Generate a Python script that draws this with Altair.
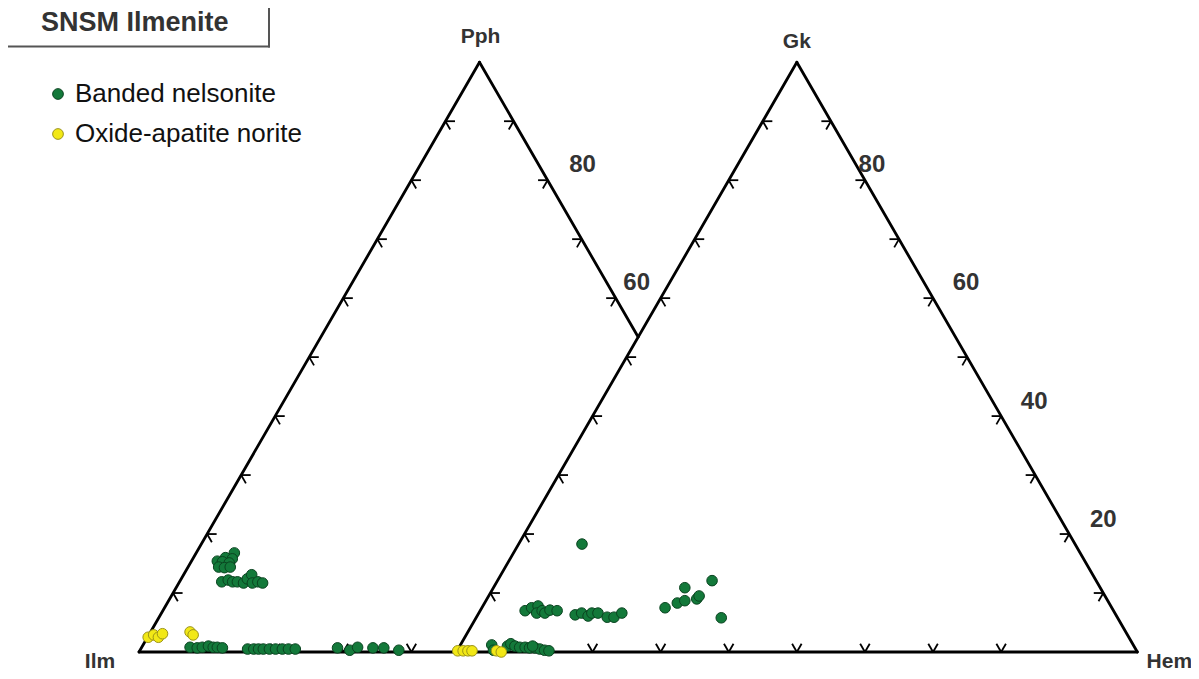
import math
import altair as alt
import pandas as pd

# ---------------- data (ternary compositions, %) ----------------
# Left diagram: apex = Pph, right component measured along base from Ilm
left_nelsonite_pph = [16.8, 16.0, 15.8, 15.4, 15.3, 15.1, 14.4, 14.3, 14.4,
                      11.9, 12.2, 11.9, 11.9, 11.7, 12.4, 13.1, 11.7, 11.9, 11.7,
                      0.8, 0.7, 0.8, 1.0, 0.8, 0.8, 0.7,
                      0.5, 0.5, 0.5, 0.5, 0.5, 0.5, 0.5, 0.5, 0.5,
                      0.7, 0.3, 0.8, 0.7, 0.7, 0.3]
left_nelsonite_rest = [5.6, 4.7, 5.8, 3.8, 4.6, 5.7, 4.5, 5.4, 6.2,
                       6.2, 7.0, 7.8, 8.5, 9.5, 9.7, 10.0, 10.8, 11.5, 12.3,
                       7.1, 8.2, 8.9, 9.7, 10.5, 11.1, 11.9,
                       15.7, 16.6, 17.3, 18.0, 18.9, 19.8, 20.8, 21.7, 22.7,
                       28.8, 30.8, 31.7, 34.0, 35.6, 38.0]
left_norite_pph = [2.5, 2.9, 2.5, 3.1, 3.4, 2.9]
left_norite_rest = [0.1, 0.7, 1.6, 1.9, 5.8, 6.5]

# Right diagram: apex = Gk, right vertex = Hem
right_nelsonite_gk = [1.2, 0.3, 1.0, 1.4, 1.0, 0.8, 0.8, 0.7, 0.7, 0.5, 0.3, 0.2, 1.0,
                      7.0, 7.5, 7.8, 6.6, 7.0, 6.6, 7.1, 7.0,
                      6.3, 6.6, 6.1, 6.6, 6.6, 5.9, 5.9, 6.6,
                      18.3,
                      7.5, 8.3, 8.7, 10.9, 9.0, 9.5, 12.1, 5.8]
right_nelsonite_hem = [4.6, 5.3, 7.0, 7.3, 8.1, 8.9, 9.7, 10.4, 11.2, 12.0, 12.8, 13.5, 10.7,
                       6.6, 7.3, 8.1, 8.5, 9.1, 9.7, 10.2, 11.3,
                       14.3, 15.1, 16.3, 16.6, 17.5, 19.2, 20.2, 21.0,
                       9.3,
                       26.9, 28.3, 29.2, 28.1, 30.8, 30.9, 31.5, 36.0]
right_norite_gk = [0.2, 0.2, 0.2, 0.2, 0.2, 0.0]
right_norite_hem = [0.1, 0.9, 1.6, 2.2, 5.8, 6.6]

rock_types = ["Banded nelsonite", "Oxide-apatite norite"]
rock_fill = ["#13793a", "#f2e816"]
rock_stroke = ["#0a4420", "#9c9418"]

tick_values = [10, 20, 30, 40, 50, 60, 70, 80, 90]
tick_labels_left = [80, 60]
tick_labels_right = [80, 60, 40, 20]

# ---------------- geometry ----------------
OFF = 46.6            # offset of the right diagram along the shared base
S3 = math.sqrt(3) / 2
HT = 100 * S3
K = 6.81              # px per unit
X0 = -(139 - 8) / K
X1 = X0 + 1183 / K
Y1 = 644 / K
Y0 = Y1 - 663 / K


def tern(o, top, rest):
    return o + rest + top / 2, top * S3


rows = []
for o, tops, rests, rock in [
    (0, left_nelsonite_pph, left_nelsonite_rest, rock_types[0]),
    (OFF, right_nelsonite_gk, right_nelsonite_hem, rock_types[0]),
    (0, left_norite_pph, left_norite_rest, rock_types[1]),
    (OFF, right_norite_gk, right_norite_hem, rock_types[1]),
]:
    for t, r in zip(tops, rests):
        x, y = tern(o, t, r)
        rows.append({"x": x, "y": y, "rock": rock})
pts = pd.DataFrame(rows)

# triangle edges
t_int = (100 - OFF) / 100
ix, iy = 100 - 50 * t_int, t_int * HT
edges = pd.DataFrame([
    {"x": 0, "y": 0, "x2": 50, "y2": HT},              # Ilm - Pph
    {"x": 50, "y": HT, "x2": ix, "y2": iy},            # Pph - junction
    {"x": 0, "y": 0, "x2": OFF + 100, "y2": 0},        # shared base
    {"x": OFF, "y": 0, "x2": OFF + 50, "y2": HT},      # right left edge
    {"x": OFF + 50, "y": HT, "x2": OFF + 100, "y2": 0},  # Gk - Hem
])

# ticks (two strokes parallel to the other edges)
L = 1.4
tk = []


def add(px, py, dirs):
    for dx, dy in dirs:
        tk.append({"x": px, "y": py, "x2": px + L * dx, "y2": py + L * dy})


base_dirs = [(0.5, S3), (-0.5, S3)]
left_dirs = [(1, 0), (0.5, -S3)]
right_dirs = [(-1, 0), (-0.5, -S3)]
for v in tick_values:
    # left diagram
    add(v / 2, v * S3, left_dirs)
    if v < OFF:
        add(v, 0, base_dirs)
    if v / 100 > t_int:
        add(100 - v / 2, v * S3, right_dirs)
    # right diagram
    add(OFF + v / 2, v * S3, left_dirs)
    add(OFF + 100 - v / 2, v * S3, right_dirs)
    if v <= 80:
        add(OFF + v, 0, base_dirs)
ticks = pd.DataFrame(tk)

# tick labels: anchored at their tick, shifted in px
lab = []
for v, (dx, dy) in zip(tick_labels_left, [(35, -15), (21, -15)]):
    lab.append({"x": 100 - v / 2 + dx / K, "y": v * S3 - dy / K, "t": str(v)})
for v, (dx, dy) in zip(tick_labels_right, [(7, -15), (33, -15), (33, -14), (34, -14)]):
    lab.append({"x": OFF + 100 - v / 2 + dx / K, "y": v * S3 - dy / K, "t": str(v)})
labels = pd.DataFrame(lab)

verts = pd.DataFrame([
    {"x": 50 + 1 / K, "y": HT + 25 / K, "t": "Pph"},
    {"x": OFF + 50, "y": HT + 20 / K, "t": "Gk"},
    {"x": -39 / K, "y": -10 / K, "t": "Ilm"},
])
hem = pd.DataFrame([{"x": OFF + 100 + 32 / K, "y": -15.5 / K, "t": "Hem"}])

# ---------------- chart ----------------
xs = alt.Scale(domain=[X0, X1], nice=False, zero=False)
ys = alt.Scale(domain=[Y0, Y1], nice=False, zero=False)
X = alt.X("x:Q", scale=xs, axis=None)
Y = alt.Y("y:Q", scale=ys, axis=None)
FONT = "Liberation Sans"

edge_layer = alt.Chart(edges).mark_rule(color="#000000", strokeWidth=2.8, strokeCap="round").encode(
    x=X, y=Y, x2="x2:Q", y2="y2:Q")
tick_layer = alt.Chart(ticks).mark_rule(color="#000000", strokeWidth=1.8).encode(
    x=X, y=Y, x2="x2:Q", y2="y2:Q")

leg = alt.Legend(title=None, orient="none", legendX=37, legendY=73, labelFontSize=26,
                 labelFont=FONT, labelColor="#111111", symbolType="circle", symbolSize=115,
                 symbolStrokeWidth=1, labelOffset=4, rowPadding=14, padding=0, labelLimit=0)
point_layer = alt.Chart(pts).mark_point(shape="circle", filled=True, size=112, opacity=1,
                                        strokeWidth=1).encode(
    x=X, y=Y,
    fill=alt.Fill("rock:N", scale=alt.Scale(domain=rock_types, range=rock_fill), legend=leg),
    stroke=alt.Stroke("rock:N", scale=alt.Scale(domain=rock_types, range=rock_stroke), legend=leg),
)

label_layer = alt.Chart(labels).mark_text(font=FONT, fontSize=24, fontWeight="bold", color="#333333",
                                          align="center", baseline="middle").encode(x=X, y=Y, text="t:N")
vert_layer = alt.Chart(verts).mark_text(font=FONT, fontSize=21, fontWeight="bold", color="#333333",
                                        align="center", baseline="middle").encode(x=X, y=Y, text="t:N")
hem_layer = alt.Chart(hem).mark_text(font=FONT, fontSize=21, fontWeight="bold", color="#333333",
                                     align="center", baseline="alphabetic").encode(x=X, y=Y, text="t:N")

title_df = pd.DataFrame({"t": ["SNSM Ilmenite"]})
title_layer = alt.Chart(title_df).mark_text(font=FONT, fontSize=27, fontWeight="bold", color="#333333",
                                            align="left", baseline="middle").encode(
    x=alt.value(33), y=alt.value(15), text="t:N")
box_bottom = alt.Chart(title_df).mark_rule(color="#555555", strokeWidth=2).encode(
    x=alt.value(-2), x2=alt.value(262), y=alt.value(38.5), y2=alt.value(38.5))
box_right = alt.Chart(title_df).mark_rule(color="#555555", strokeWidth=2).encode(
    x=alt.value(261), x2=alt.value(261), y=alt.value(-4), y2=alt.value(39.5))

chart = alt.layer(edge_layer, tick_layer, point_layer, label_layer, vert_layer, hem_layer,
                  title_layer, box_bottom, box_right).properties(
    width=1183, height=663, padding=0, autosize=alt.AutoSizeParams(type="none"),
    background="#ffffff",
).configure_view(stroke=None)

chart.save("out.html", embed_options={"renderer": "svg", "actions": False})
